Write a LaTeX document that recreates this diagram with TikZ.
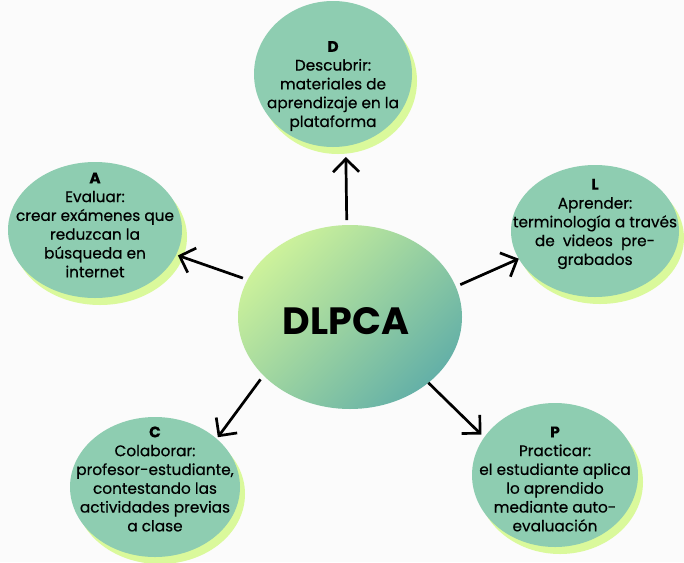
\documentclass[tikz,border=0pt]{standalone}
\usepackage{fontspec}
\setmainfont{Poppins}
\newfontfamily\ideafont{Poppins}[FakeBold=0.5]
\usetikzlibrary{shapes.geometric,shadows,arrows.meta}

\definecolor{paper}{HTML}{FBFBFB}
\definecolor{mint}{HTML}{8ECDB1}
\definecolor{limeshade}{HTML}{DAF99B}
\definecolor{hubtop}{HTML}{CDF29B}
\definecolor{hubbottom}{HTML}{64B0A7}

\tikzset{
  idea/.style={ellipse, fill=mint, inner sep=0pt, outer sep=0pt,
    drop shadow={shadow xshift=5pt, shadow yshift=-7pt, fill=limeshade, opacity=1}},
  idea text/.style={align=center, font=\ideafont\fontsize{15.3}{18.8}\selectfont, text=black},
  link/.style={-{Straight Barb[length=13pt,width=26pt]}, line width=2.7pt, shorten <=5pt},
}

\begin{document}
\begin{tikzpicture}[x=1pt, y=-1pt]
\useasboundingbox (0,0) rectangle (684,562);
\fill[paper] (0,0) rectangle (684,562);

%%% outer ideas %%%
      \node[idea, minimum width=158pt, minimum height=146pt] (D) at (333,74) {};
      \node[idea, minimum width=174pt, minimum height=136pt] (A) at (95,230) {};
      \node[idea, minimum width=168pt, minimum height=132pt] (L) at (595,231) {};
      \node[idea, minimum width=170pt, minimum height=140pt] (C) at (155,487) {};
      \node[idea, minimum width=166pt, minimum height=144pt] (P) at (555,475) {};
      %%
      \node[idea text] (Dtxt) at (333,86) {\textbf{D}\\Descubrir:\\materiales de\\aprendizaje en la\\plataforma};
      \node[idea text] (Atxt) at (95,225) {\textbf{A}\\Evaluar:\\crear exámenes que\\reduzcan la\\búsqueda en\\internet};
      \node[idea text] (Ltxt) at (595,224) {\textbf{L}\\Aprender:\\terminología a través\\de\ \ videos\ \ pre-\\grabados};
      \node[idea text] (Ctxt) at (155,479) {\textbf{C}\\Colaborar:\\profesor-estudiante,\\contestando las\\actividades previas\\a clase};
      \node[idea text] (Ptxt) at (555,479) {\textbf{P}\\Practicar:\\el estudiante aplica\\lo aprendido\\mediante auto-\\evaluación};

%%% hub %%%
      \node[ellipse, minimum width=224pt, minimum height=184pt, inner sep=0pt, outer sep=0pt,
            top color=hubtop, bottom color=hubbottom, shading angle=45] (hub) at (350,317) {};
      \node[font=\fontsize{38}{42}\selectfont\bfseries] (hubtxt) at (346,321) {DLPCA};

%%% arrows %%%
      \draw[link, shorten >=11pt] (hub.92) -- (D.-80);
      \draw[link, shorten >=2pt] (hub.160) -- (A.-17);
      \draw[link] (hub.16) -- (L.200);
      \draw[link, shorten >=2pt] (hub.214) -- (C.38);
      \draw[link, shorten >=4pt, shorten <=0pt] (hub.-40) -- (P.152);

\end{tikzpicture}
\end{document}
